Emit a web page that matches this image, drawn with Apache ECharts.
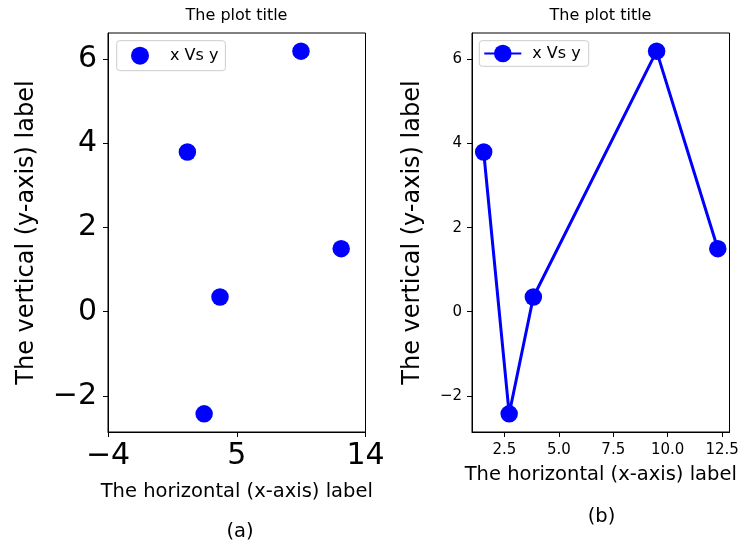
<!DOCTYPE html>
<html>
<head>
<meta charset="utf-8">
<script src="https://cdn.jsdelivr.net/npm/echarts@6/dist/echarts.min.js"></script>
<style>
html,body{margin:0;padding:0;background:#fff;}
#chart{width:738px;height:545px;}
</style>
</head>
<body>
<div id="chart"></div>
<script>
// ---- data ----
const xValues = [1.55, 2.72, 3.83, 9.49, 12.3];
const yValues = [3.8, -2.43, 0.35, 6.2, 1.5];
const seriesLabel = 'x Vs y';
const plotTitle = 'The plot title';
const xAxisLabel = 'The horizontal (x-axis) label';
const yAxisLabel = 'The vertical (y-axis) label';
const panelLabels = ['(a)', '(b)'];
const leftXTicks = [-4, 5, 14];
const leftYTicks = [-2, 0, 2, 4, 6];
const rightXTicks = [2.5, 5, 7.5, 10, 12.5];
const rightYTicks = [-2, 0, 2, 4, 6];

// ---- helpers ----
const pts = xValues.map((x, i) => [x, yValues[i]]);
function pad(arr) {
  const mn = Math.min(...arr), mx = Math.max(...arr), s = mx - mn;
  return [mn - 0.05 * s, mx + 0.05 * s];
}
const [xmin, xmax] = pad(xValues);
const [ymin, ymax] = pad(yValues);
const minus = v => String(v).replace('-', '\u2212');
const FONT = 'DejaVu Sans';
const BLUE = '#0000ff';
const INK = '#000';

function axisCommon(ticks, fontSize, margin, fmt) {
  return {
    axisLine: { show: true, onZero: false, lineStyle: { color: INK, width: 1 } },
    axisTick: { show: true, inside: false, length: 5, lineStyle: { color: INK, width: 1 }, customValues: ticks },
    axisLabel: { show: true, customValues: ticks, fontSize: fontSize, color: INK, fontFamily: FONT, margin: margin, formatter: fmt, showMinLabel: true, showMaxLabel: true },
    splitLine: { show: false },
    nameMoveOverlap: false
  };
}

const chart = echarts.init(document.getElementById('chart'), null, { renderer: 'canvas' });
const option = {
  animation: false,
  backgroundColor: '#fff',
  textStyle: { fontFamily: FONT },
  title: [
    { text: plotTitle, left: 236.5, top: 16, textAlign: 'center', textVerticalAlign: 'middle', padding: 0,
      textStyle: { fontSize: 16, fontWeight: 'normal', color: INK, fontFamily: FONT } },
    { text: plotTitle, left: 600.5, top: 16, textAlign: 'center', textVerticalAlign: 'middle', padding: 0,
      textStyle: { fontSize: 16, fontWeight: 'normal', color: INK, fontFamily: FONT } },
    { text: panelLabels[0], left: 240, top: 531.5, textAlign: 'center', textVerticalAlign: 'middle', padding: 0,
      textStyle: { fontSize: 19.5, fontWeight: 'normal', color: INK, fontFamily: FONT } },
    { text: panelLabels[1], left: 601.5, top: 516.5, textAlign: 'center', textVerticalAlign: 'middle', padding: 0,
      textStyle: { fontSize: 19.5, fontWeight: 'normal', color: INK, fontFamily: FONT } }
  ],
  grid: [
    { left: 108, top: 33, width: 257.5, height: 399, show: true, borderColor: INK, borderWidth: 1, backgroundColor: 'transparent', containLabel: false, outerBoundsMode: 'none' },
    { left: 472, top: 33, width: 257.5, height: 399, show: true, borderColor: INK, borderWidth: 1, backgroundColor: 'transparent', containLabel: false, outerBoundsMode: 'none' }
  ],
  xAxis: [
    Object.assign(axisCommon(leftXTicks, 30, 9, minus), {
      type: 'value', gridIndex: 0, min: -4, max: 14,
      name: xAxisLabel, nameLocation: 'middle', nameGap: 50,
      nameTextStyle: { fontSize: 19.5, color: INK, fontFamily: FONT }
    }),
    Object.assign(axisCommon(rightXTicks, 15, 11, v => v.toFixed(1)), {
      type: 'value', gridIndex: 1, min: xmin, max: xmax,
      name: xAxisLabel, nameLocation: 'middle', nameGap: 33,
      nameTextStyle: { fontSize: 19.5, color: INK, fontFamily: FONT }
    })
  ],
  yAxis: [
    Object.assign(axisCommon(leftYTicks, 30, 11, minus), {
      type: 'value', gridIndex: 0, min: ymin, max: ymax,
      name: yAxisLabel, nameLocation: 'middle', nameGap: 69,
      nameTextStyle: { fontSize: 24, color: INK, fontFamily: FONT }
    }),
    Object.assign(axisCommon(rightYTicks, 15, 10, minus), {
      type: 'value', gridIndex: 1, min: ymin, max: ymax,
      name: yAxisLabel, nameLocation: 'middle', nameGap: 47,
      nameTextStyle: { fontSize: 24, color: INK, fontFamily: FONT }
    })
  ],
  legend: [
    { data: ['scatterSeries'], selectedMode: false, left: 116.7, top: 40.7, orient: 'horizontal',
      padding: [6, 7, 6, 14.3], itemWidth: 18, itemHeight: 18, itemGap: 0,
      borderColor: '#cccccc', borderWidth: 1, borderRadius: 3, backgroundColor: 'rgba(255,255,255,0.8)',
      formatter: () => seriesLabel,
      textStyle: { fontSize: 16, color: INK, fontFamily: FONT, padding: [0, 0, 0, 16] } },
    { data: ['lineSeries'], selectedMode: false, left: 479.3, top: 40.7, orient: 'horizontal',
      padding: [4, 8, 4, 4], itemWidth: 37, itemHeight: 22, itemGap: 0,
      borderColor: '#cccccc', borderWidth: 1, borderRadius: 3, backgroundColor: 'rgba(255,255,255,0.8)',
      formatter: () => seriesLabel,
      textStyle: { fontSize: 16, color: INK, fontFamily: FONT, padding: [0, 0, 0, 6] } }
  ],
  series: [
    { name: 'scatterSeries', type: 'scatter', xAxisIndex: 0, yAxisIndex: 0, data: pts,
      symbol: 'circle', symbolSize: 17.5, itemStyle: { color: BLUE, opacity: 1 } },
    { name: 'lineSeries', type: 'line', xAxisIndex: 1, yAxisIndex: 1, data: pts,
      symbol: 'circle', symbolSize: 17.5, showSymbol: true,
      lineStyle: { color: BLUE, width: 3 }, itemStyle: { color: BLUE, borderWidth: 0 } }
  ]
};
chart.setOption(option);
</script>
</body>
</html>
